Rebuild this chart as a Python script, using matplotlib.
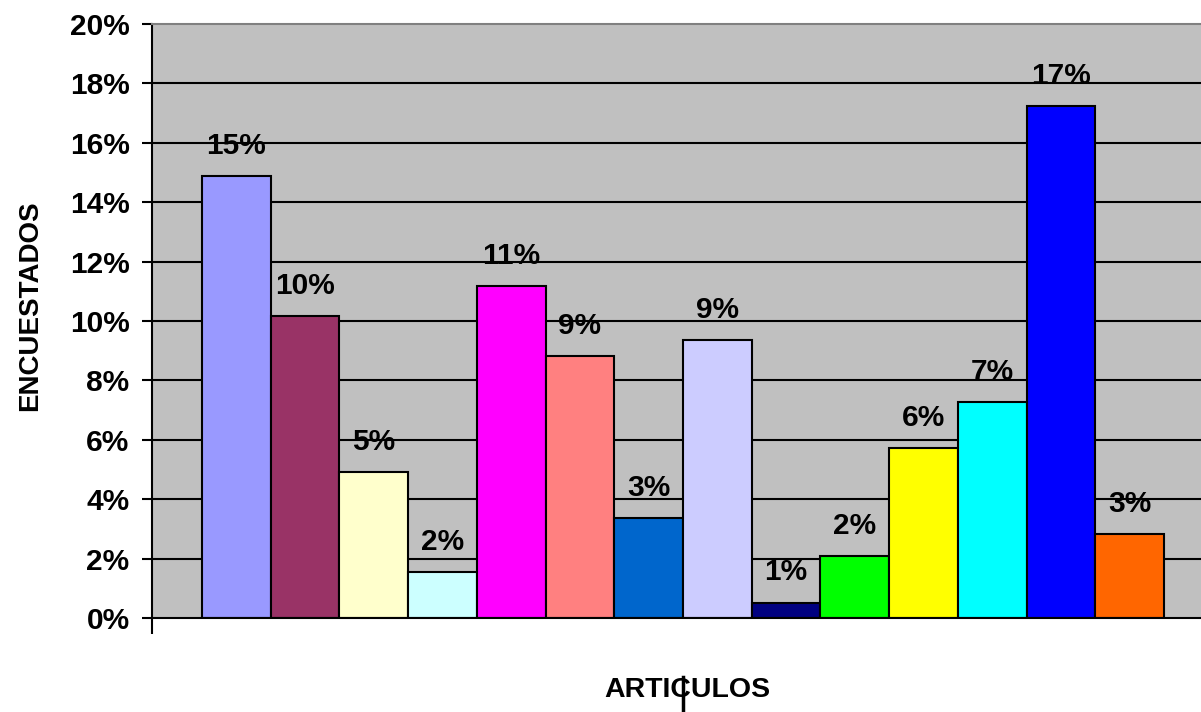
import matplotlib
matplotlib.use("Agg")
import matplotlib.pyplot as plt
from matplotlib.ticker import FuncFormatter, FixedLocator
from matplotlib.transforms import blended_transform_factory

# Share of respondents per article (fraction of total)
values = [0.1488, 0.1017, 0.0492, 0.0155, 0.1118, 0.0882, 0.0337,
          0.0936, 0.0052, 0.0209, 0.0572, 0.0727, 0.1724, 0.0283]
colors = ["#9999FF", "#993366", "#FFFFCC", "#CCFFFF", "#FF00FF", "#FF8080",
          "#0066CC", "#CCCCFF", "#000080", "#00FF00", "#FFFF00", "#00FFFF",
          "#0000FF", "#FF6600"]
y_ticks = [0.00, 0.02, 0.04, 0.06, 0.08, 0.10, 0.12, 0.14, 0.16, 0.18, 0.20]
x_title = "ARTICULOS"
y_title = "ENCUESTADOS"

plt.rcParams["font.family"] = ["Liberation Sans", "DejaVu Sans"]
plt.rcParams["font.weight"] = "bold"

W, H = 1201, 712
fig = plt.figure(figsize=(W / 100, H / 100), dpi=100)

gap = 0.728
n = len(values)
ax_left, ax_right = 152, 1214
ax_top, ax_bottom = 24, 618
ax = fig.add_axes([ax_left / W, (H - ax_bottom) / H,
                   (ax_right - ax_left) / W, (ax_bottom - ax_top) / H])
ax.set_facecolor("#C0C0C0")

ax.set_xlim(-gap, n + gap)
ax.set_ylim(0, 0.20)

# horizontal gridlines
for t in y_ticks[1:-1]:
    ax.axhline(t, color="black", lw=1.5, zorder=1)

xs = [i + 0.5 for i in range(n)]
ax.bar(xs, values, width=1.0, color=colors, edgecolor="black",
       linewidth=1.5, zorder=3)

for x, v in zip(xs, values):
    ax.annotate(f"{v * 100:.0f}%", (x, v), xytext=(0, 16),
                textcoords="offset points", ha="center", va="baseline",
                fontsize=21.5, fontweight="bold", color="black", zorder=4)

ax.yaxis.set_major_locator(FixedLocator(y_ticks))
ax.yaxis.set_major_formatter(FuncFormatter(lambda v, _: f"{v * 100:.0f}%"))
ax.tick_params(axis="y", direction="out", length=7.2, width=1.5, pad=9,
               labelsize=21.5, colors="black")
for lab in ax.get_yticklabels():
    lab.set_fontweight("bold")

ax.xaxis.set_major_locator(FixedLocator([-gap, n + gap]))
ax.set_xticklabels([])
ax.tick_params(axis="x", direction="out", length=11.5, width=1.5)

ax.spines["left"].set_linewidth(1.5)
ax.spines["bottom"].set_linewidth(1.5)
ax.spines["top"].set_color("#808080")
ax.spines["top"].set_linewidth(1.5)
ax.spines["right"].set_color("#808080")
ax.spines["right"].set_linewidth(1.5)
for s in ax.spines.values():
    s.set_zorder(5)

fig.text(30 / W, 1 - 306 / H, y_title, rotation=90, ha="center", va="center",
         fontsize=20, fontweight="bold")
fig.text(687 / W, 1 - 690 / H, x_title, ha="center", va="center",
         fontsize=20.5, fontweight="bold")

# category centre marker below the axis
trans = blended_transform_factory(ax.transData, fig.transFigure)
center = n / 2
ax.plot([center, center], [1 - 677 / H, 0], transform=trans, color="black",
        lw=2.5, clip_on=False, zorder=6)

fig.savefig("out.png", dpi=100, facecolor="white")
